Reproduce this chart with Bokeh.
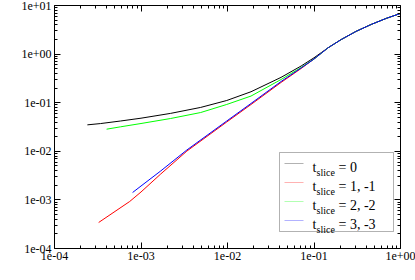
import math
from bokeh.plotting import figure
from bokeh.models import LogAxis, FixedTicker, Label, BoxAnnotation, PolyAnnotation
from bokeh.embed import file_html
from bokeh.resources import INLINE

# ---- axis ticks ----
x_ticks = [1e-4, 1e-3, 1e-2, 1e-1, 1e0]
x_tick_labels = ["1e-04", "1e-03", "1e-02", "1e-01", "1e+00"]
y_ticks = [1e-4, 1e-3, 1e-2, 1e-1, 1e0, 1e1]
y_tick_labels = ["1e-04", "1e-03", "1e-02", "1e-01", "1e+00", "1e+01"]

# ---- series ----
x_t0 = [2.4e-4, 3.4e-4, 5.8e-4, 1e-3, 2.2e-3, 4.9e-3, 9.8e-3, 1.87e-2, 4.16e-2, 7.1e-2, 0.1, 0.146,
        0.206, 0.307, 0.459, 0.684, 1.0]
y_t0 = [0.035, 0.0372, 0.042, 0.048, 0.0603, 0.080, 0.111, 0.168, 0.332, 0.569, 0.84, 1.355,
        1.99, 2.94, 4.08, 5.43, 6.87]

x_t1 = [3.24e-4, 7.4e-4, 1e-3, 1.69e-3, 3.39e-3, 9.8e-3, 1.87e-2, 4.16e-2, 7.1e-2, 0.1, 0.146,
        0.206, 0.307, 0.459, 0.684, 1.0]
y_t1 = [3.43e-4, 9.27e-4, 1.455e-3, 3.41e-3, 0.0101, 0.0401, 0.0918, 0.261, 0.506, 0.793, 1.355,
        1.99, 2.94, 4.08, 5.43, 6.87]

x_t2 = [4.0e-4, 5.8e-4, 1e-3, 2.2e-3, 4.9e-3, 9.8e-3, 1.87e-2, 4.16e-2, 7.1e-2, 0.1, 0.146,
        0.206, 0.307, 0.459, 0.684, 1.0]
y_t2 = [0.0285, 0.0319, 0.0373, 0.0473, 0.0628, 0.092, 0.137, 0.300, 0.530, 0.79, 1.355,
        1.99, 2.94, 4.08, 5.43, 6.87]

x_t3 = [8.0e-4, 1e-3, 1.69e-3, 3.39e-3, 9.8e-3, 1.87e-2, 4.16e-2, 7.1e-2, 0.1, 0.146,
        0.206, 0.307, 0.459, 0.684, 1.0]
y_t3 = [1.42e-3, 1.93e-3, 3.94e-3, 0.01064, 0.042, 0.0964, 0.273, 0.518, 0.793, 1.355,
        1.99, 2.94, 4.08, 5.43, 6.87]

series_names = ["0", "1, -1", "2, -2", "3, -3"]
series_colors = ["black", "#ff0000", "#00ff00", "#0000ff"]

FONT = "Liberation Serif"

p = figure(width=415, height=280, x_axis_type="log", y_axis_type="log",
           x_range=(1e-4, 1.0), y_range=(1e-4, 10.0),
           output_backend="svg", toolbar_location=None,
           min_border_left=54, min_border_right=15, min_border_top=5, min_border_bottom=32)
p.grid.visible = False
p.outline_line_color = None
p.background_fill_color = "white"
p.border_fill_color = "white"

xs_all = [x_t0, x_t1, x_t2, x_t3]
ys_all = [y_t0, y_t1, y_t2, y_t3]
for xs, ys, c in zip(xs_all, ys_all, series_colors):
    p.line(xs, ys, line_color=c, line_width=1)

x_minor = [m * 10.0 ** k for k in range(-4, 0) for m in range(2, 10)]
y_minor = [m * 10.0 ** k for k in range(-4, 1) for m in range(2, 10)]


def style_axis(ax, ticks, minor, labels, show):
    ax.ticker = FixedTicker(ticks=ticks, minor_ticks=minor)
    ax.axis_line_color = "black"
    ax.axis_line_width = 1
    ax.major_tick_line_color = "black"
    ax.minor_tick_line_color = "black"
    ax.major_tick_in = 6
    ax.major_tick_out = 0
    ax.minor_tick_in = 3
    ax.minor_tick_out = 0
    if show:
        ax.major_label_overrides = {t: s for t, s in zip(ticks, labels)}
        ax.major_label_text_font = FONT
        ax.major_label_text_font_size = "12px"
        ax.major_label_text_color = "black"
        ax.major_label_standoff = 3
    else:
        ax.major_label_overrides = {t: "" for t in ticks}
        ax.major_label_text_font_size = "0px"
        ax.major_label_standoff = 0


style_axis(p.xaxis[0], x_ticks, x_minor, x_tick_labels, True)
style_axis(p.yaxis[0], y_ticks, y_minor, y_tick_labels, True)
top_ax = LogAxis()
right_ax = LogAxis()
style_axis(top_ax, x_ticks, x_minor, x_tick_labels, False)
style_axis(right_ax, y_ticks, y_minor, y_tick_labels, False)
p.add_layout(top_ax, "above")
p.add_layout(right_ax, "right")

# ---- axis titles (with subscripts) ----
p.add_layout(Label(x=159, y=-23, x_units="screen", y_units="screen", text="n/V",
                   text_font=FONT, text_font_size="14px", text_color="black",
                   text_baseline="alphabetic", text_align="left", level="guide"))
p.add_layout(Label(x=181.5, y=-26, x_units="screen", y_units="screen", text="S",
                   text_font=FONT, text_font_size="10px", text_color="black",
                   text_baseline="alphabetic", text_align="left", level="guide"))
p.add_layout(Label(x=-46, y=114.5, x_units="screen", y_units="screen", text="λ",
                   text_font=FONT, text_font_size="11px", text_color="black",
                   text_baseline="alphabetic", text_align="left", angle=math.pi / 2,
                   level="guide"))
p.add_layout(Label(x=-45.5, y=122, x_units="screen", y_units="screen", text="n",
                   text_font=FONT, text_font_size="7px", text_color="black",
                   text_baseline="alphabetic", text_align="left", angle=math.pi / 2,
                   level="guide"))

# ---- legend (drawn by hand for subscripts) ----
p.add_layout(BoxAnnotation(left=225, right=339, bottom=17, top=96,
                           left_units="screen", right_units="screen",
                           bottom_units="screen", top_units="screen",
                           fill_color="white", fill_alpha=1.0,
                           line_color="black", line_width=1, level="overlay"))
entry_y = [85, 66, 47, 28]
for ey, name, c in zip(entry_y, series_names, series_colors):
    p.add_layout(PolyAnnotation(xs=[230, 249], ys=[ey, ey], xs_units="screen", ys_units="screen",
                                fill_color=None, fill_alpha=0, line_color=c, line_width=1,
                                level="overlay"))
    p.add_layout(Label(x=258, y=ey - 4, x_units="screen", y_units="screen", text="t",
                       text_font=FONT, text_font_size="14px", text_color="black",
                       text_baseline="alphabetic", text_align="left", level="overlay"))
    p.add_layout(Label(x=262, y=ey - 9, x_units="screen", y_units="screen", text="slice",
                       text_font=FONT, text_font_size="10px", text_color="black",
                       text_baseline="alphabetic", text_align="left", level="overlay"))
    p.add_layout(Label(x=284, y=ey - 4, x_units="screen", y_units="screen", text="= " + name,
                       text_font=FONT, text_font_size="14px", text_color="black",
                       text_baseline="alphabetic", text_align="left", level="overlay"))

open("out.html", "w").write(file_html(p, INLINE))
